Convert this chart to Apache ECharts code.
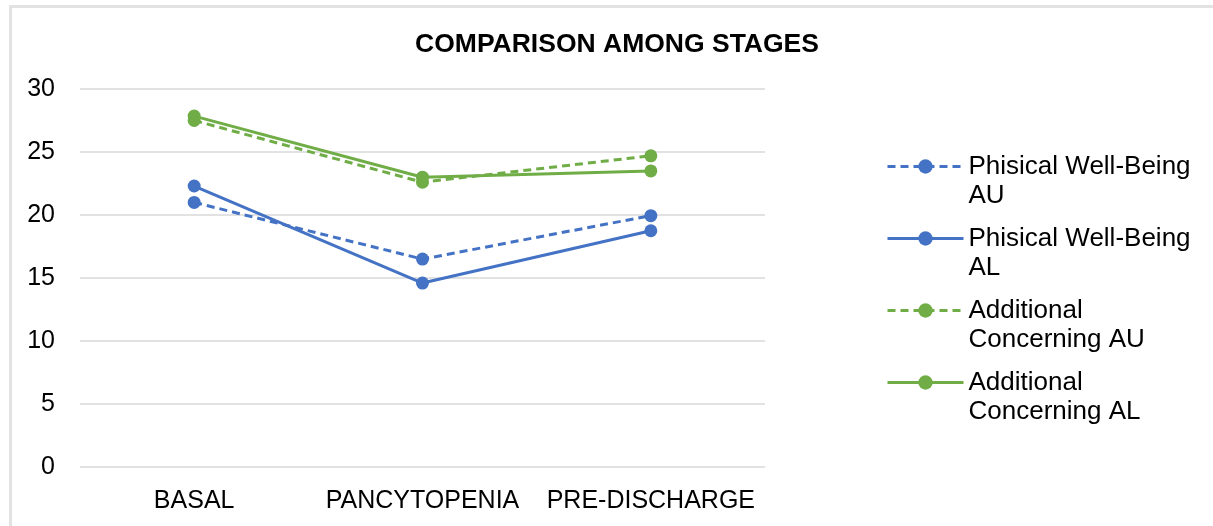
<!DOCTYPE html>
<html>
<head>
<meta charset="utf-8">
<script src="https://cdn.jsdelivr.net/npm/echarts@6/dist/echarts.min.js"></script>
<style>
html,body{margin:0;padding:0;background:#fff;overflow:hidden;}
#frame{position:absolute;left:9px;top:5px;width:1220px;height:540px;border-left:3px solid #e2e2e2;border-top:3px solid #e2e2e2;box-sizing:border-box;}
#chart{position:absolute;left:0;top:0;width:1213px;height:526px;}
</style>
</head>
<body>
<div id="frame"></div>
<div id="chart"></div>
<script>
var categories = ['BASAL', 'PANCYTOPENIA', 'PRE-DISCHARGE'];
var seriesNames = ['Phisical Well-Being\nAU', 'Phisical Well-Being\nAL', 'Additional\nConcerning AU', 'Additional\nConcerning AL'];
var physicalAU = [21.0, 16.5, 19.95];
var physicalAL = [22.3, 14.6, 18.75];
var additionalAU = [27.5, 22.6, 24.7];
var additionalAL = [27.85, 23.0, 23.5];
var yTicks = {min: 0, max: 30, interval: 5};

var BLUE = '#4472C4', GREEN = '#70AD47';
var DASH = [8, 5];
function mk(name, data, color, dashed) {
  return {
    name: name, type: 'line', data: data,
    symbol: 'circle', symbolSize: 13,
    itemStyle: {color: color},
    lineStyle: {color: color, width: 3, type: dashed ? DASH : 'solid'},
    emphasis: {disabled: true}
  };
}
function leg(name, color, dashed) {
  return {name: name, lineStyle: {color: color, width: 3, type: dashed ? DASH : 'solid'}};
}
var chart = echarts.init(document.getElementById('chart'), null, {renderer: 'canvas'});
chart.setOption({
  animation: false,
  title: {
    text: 'COMPARISON AMONG STAGES', left: 612, top: 26, textAlign: 'center',
    textStyle: {fontFamily: 'Liberation Sans', fontWeight: 'bold', fontSize: 26.5, color: '#000'}
  },
  grid: {left: 80, right: 448, top: 89, bottom: 59},
  legend: {
    orient: 'vertical', left: 881, top: 118,
    itemWidth: 76, itemHeight: 18, itemGap: -15,
    lineStyle: {width: 3},
    data: [leg(seriesNames[0], BLUE, true), leg(seriesNames[1], BLUE, false), leg(seriesNames[2], GREEN, true), leg(seriesNames[3], GREEN, false)],
    formatter: function (n) { return ' \n' + n; },
    textStyle: {fontFamily: 'Liberation Sans', fontSize: 26, color: '#000', lineHeight: 29}
  },
  xAxis: {
    type: 'category', data: categories, boundaryGap: true,
    axisLine: {show: false}, axisTick: {show: false},
    axisLabel: {fontFamily: 'Liberation Sans', fontSize: 25, color: '#000', margin: 22, interval: 0}
  },
  yAxis: {
    type: 'value', min: yTicks.min, max: yTicks.max, interval: yTicks.interval,
    axisLine: {show: false}, axisTick: {show: false},
    axisLabel: {fontFamily: 'Liberation Sans', fontSize: 25, color: '#000', margin: 25},
    splitLine: {lineStyle: {color: '#d9d9d9', width: 1.5}}
  },
  series: [
    mk(seriesNames[0], physicalAU, BLUE, true),
    mk(seriesNames[1], physicalAL, BLUE, false),
    mk(seriesNames[2], additionalAU, GREEN, true),
    mk(seriesNames[3], additionalAL, GREEN, false)
  ]
});
</script>
</body>
</html>
